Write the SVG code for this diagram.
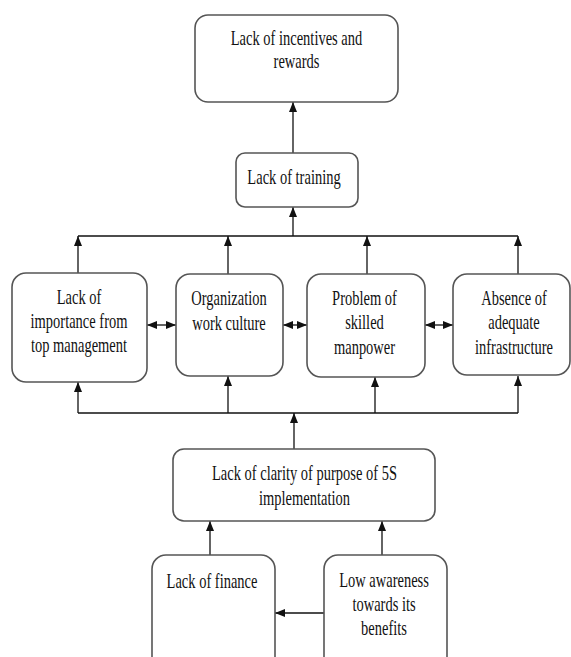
<svg xmlns="http://www.w3.org/2000/svg" width="571" height="657" viewBox="0 0 571 657">
<style>
.box{fill:#fff;stroke:#555;stroke-width:1.6}
.t{font-family:"Liberation Serif","Times New Roman",serif;font-size:21px;fill:#111;text-anchor:middle}
.c{fill:none;stroke:#111;stroke-width:1.3}
</style>
<defs>
<marker id="ah" markerUnits="userSpaceOnUse" markerWidth="10" markerHeight="10" viewBox="0 0 10 10" refX="10" refY="5" orient="auto-start-reverse">
<path d="M0,1 L10,5 L0,9 Z" fill="#111"/>
</marker>
</defs>
<rect width="571" height="657" fill="#fff"/>

<g id="connectors">
<path class="c" d="M293,153 V102" marker-end="url(#ah)"/>
<path class="c" d="M293,236 V207" marker-end="url(#ah)"/>
<path class="c" d="M78,236 H518"/>
<path class="c" d="M78,273 V236" marker-end="url(#ah)"/>
<path class="c" d="M228,274 V236" marker-end="url(#ah)"/>
<path class="c" d="M367,274 V236" marker-end="url(#ah)"/>
<path class="c" d="M518,274 V236" marker-end="url(#ah)"/>
<path class="c" d="M147,325 H176" marker-start="url(#ah)" marker-end="url(#ah)"/>
<path class="c" d="M283,325 H307" marker-start="url(#ah)" marker-end="url(#ah)"/>
<path class="c" d="M425,325 H453" marker-start="url(#ah)" marker-end="url(#ah)"/>
<path class="c" d="M78,413 H518"/>
<path class="c" d="M78,413 V382" marker-end="url(#ah)"/>
<path class="c" d="M228,413 V376" marker-end="url(#ah)"/>
<path class="c" d="M375,413 V377" marker-end="url(#ah)"/>
<path class="c" d="M518,413 V376" marker-end="url(#ah)"/>
<path class="c" d="M294,449 V413" marker-end="url(#ah)"/>
<path class="c" d="M210,555 V521" marker-end="url(#ah)"/>
<path class="c" d="M382,555 V521" marker-end="url(#ah)"/>
<path class="c" d="M324,613 H275" marker-end="url(#ah)"/>
</g>

<g id="incentives">
<rect class="box" x="195" y="15" width="203" height="87" rx="13"/>
<text class="t" transform="translate(296.5,0) scale(0.69,1)"><tspan x="0" y="45.5">Lack of incentives and</tspan><tspan x="0" y="68">rewards</tspan></text>
</g>

<g id="training">
<rect class="box" x="236" y="153" width="122" height="54" rx="9"/>
<text class="t" transform="translate(294,0) scale(0.69,1)"><tspan x="0" y="184">Lack of training</tspan></text>
</g>

<g id="top-management">
<rect class="box" x="12" y="273" width="135" height="109" rx="14"/>
<text class="t" transform="translate(79,0) scale(0.69,1)"><tspan x="0" y="304">Lack of</tspan><tspan x="0" y="328">importance from</tspan><tspan x="0" y="352">top management</tspan></text>
</g>

<g id="work-culture">
<rect class="box" x="176" y="274" width="107" height="102" rx="14"/>
<text class="t" transform="translate(229,0) scale(0.69,1)"><tspan x="0" y="305">Organization</tspan><tspan x="0" y="330">work culture</tspan></text>
</g>

<g id="manpower">
<rect class="box" x="307" y="274" width="118" height="103" rx="14"/>
<text class="t" transform="translate(364.5,0) scale(0.69,1)"><tspan x="0" y="305">Problem of</tspan><tspan x="0" y="329">skilled</tspan><tspan x="0" y="354">manpower</tspan></text>
</g>

<g id="infrastructure">
<rect class="box" x="453" y="274" width="117" height="101" rx="14"/>
<text class="t" transform="translate(514,0) scale(0.69,1)"><tspan x="0" y="305">Absence of</tspan><tspan x="0" y="329">adequate</tspan><tspan x="0" y="354">infrastructure</tspan></text>
</g>

<g id="clarity">
<rect class="box" x="173" y="449" width="262" height="72" rx="11"/>
<text class="t" transform="translate(304.5,0) scale(0.69,1)"><tspan x="0" y="480">Lack of clarity of purpose of 5S</tspan><tspan x="0" y="505">implementation</tspan></text>
</g>

<g id="finance">
<rect class="box" x="152" y="555" width="123" height="130" rx="14"/>
<text class="t" transform="translate(212,0) scale(0.69,1)"><tspan x="0" y="588">Lack of finance</tspan></text>
</g>

<g id="awareness">
<rect class="box" x="324" y="555" width="123" height="130" rx="14"/>
<text class="t" transform="translate(384,0) scale(0.69,1)"><tspan x="0" y="587">Low awareness</tspan><tspan x="0" y="611">towards its</tspan><tspan x="0" y="635">benefits</tspan></text>
</g>
</svg>
